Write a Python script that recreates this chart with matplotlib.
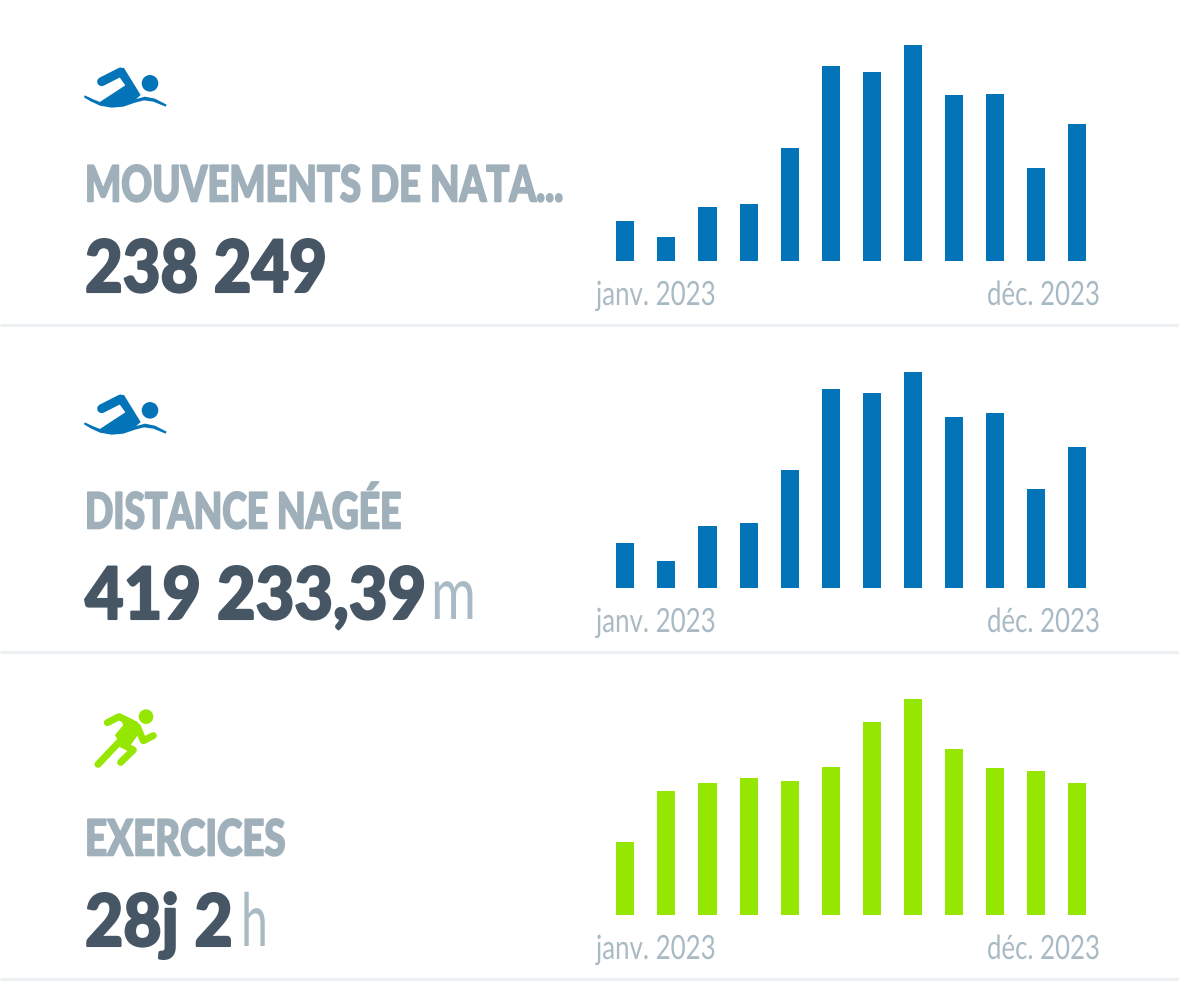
import matplotlib
matplotlib.use("Agg")
import matplotlib.pyplot as plt
from matplotlib.patches import Polygon, Circle
from matplotlib.patheffects import AbstractPathEffect
from matplotlib.transforms import Affine2D

# Data (bar heights)
months = ["janv.", "févr.", "mars", "avr.", "mai", "juin", "juil.", "août", "sept.", "oct.", "nov.", "déc."]
strokes = [40, 24, 54, 57, 113, 195, 189, 216, 166, 167, 93, 137]
distance = [45, 27, 62, 65, 118, 199, 195, 216, 171, 175, 99, 141]
workouts = [73, 124, 132, 137, 134, 148, 193, 216, 166, 147, 144, 132]
labels = ["MOUVEMENTS DE NATA...", "DISTANCE NAGÉE", "EXERCICES"]
totals = ["238 249", "419 233,39", "28j 2"]
units = ["", "m", "h"]
date_start = "janv. 2023"
date_end = "déc. 2023"

W, H = 1179, 983
BLUE = "#0474b8"
GREEN = "#95e600"
GREY = "#9fb0bb"
DARK = "#465665"
LIGHT = "#a9bac4"
RULE = "#ecf0f3"
FONT = ["Lato", "DejaVu Sans"]

fig = plt.figure(figsize=(W / 100, H / 100), dpi=100, facecolor="white")
bg = fig.add_axes([0, 0, 1, 1])
bg.set_xlim(0, W)
bg.set_ylim(H, 0)
bg.axis("off")


def lw(px):
    return px * 72 / 100


# No condensed family is installed, so narrow the glyphs when they are drawn
class Squeeze(AbstractPathEffect):
    def __init__(self, anchor, scale, stroke=0):
        super().__init__()
        self.anchor = anchor
        self.scale = scale
        self.stroke = stroke

    def draw_path(self, renderer, gc, tpath, affine, rgbFace=None):
        squeeze = Affine2D().translate(-self.anchor, 0).scale(self.scale, 1).translate(self.anchor, 0)
        gc0 = renderer.new_gc()
        gc0.copy_properties(gc)
        gc0.set_foreground(rgbFace)
        gc0.set_linewidth(self.stroke)
        renderer.draw_path(gc0, tpath, affine + squeeze, rgbFace)
        gc0.restore()


def fit_text(x, y, s, width, right=False, stroke=0, **kw):
    t = bg.text(x, y, s, family=FONT, va="baseline", ha="right" if right else "left", **kw)
    fig.canvas.draw()
    t.set_path_effects([Squeeze(x, width / t.get_window_extent().width, stroke)])
    return t


def draw_swimmer(dy):
    # points taken from the reference crop
    sx = lambda x: 70 + x / 3
    sy = lambda y: 50 + y / 3 + dy
    arm = [(95, 95), (152, 66)]
    bg.plot([sx(p[0]) for p in arm], [sy(p[1]) for p in arm], color=BLUE, lw=lw(9), solid_capstyle="round")
    body = [(88, 157), (166, 106), (146, 78), (150, 54), (162, 54), (212, 135), (190, 155), (150, 168), (115, 168)]
    bg.add_patch(Polygon([(sx(x), sy(y)) for x, y in body], color=BLUE, lw=0))
    wave = [(44, 136), (70, 148), (95, 158), (125, 163), (160, 160), (195, 148), (225, 140), (255, 146), (290, 164),
            (287, 170), (250, 155), (222, 151), (195, 158), (160, 170), (125, 173), (90, 167), (62, 154), (42, 142)]
    bg.add_patch(Polygon([(sx(x), sy(y)) for x, y in wave], color=BLUE, lw=0))
    bg.add_patch(Circle((sx(240), sy(100)), 8.3, color=BLUE, lw=0))


def draw_runner():
    sx = lambda x: 80 + x / 3
    sy = lambda y: 700 + y / 3
    bg.add_patch(Circle((sx(198), sy(50)), 7.3, color=GREEN, lw=0))
    limbs = [
        [(82, 68), (117, 50), (155, 68)],
        [(172, 80), (190, 122), (220, 107)],
        [(54, 193), (125, 118)],
        [(125, 132), (160, 150), (122, 187)],
    ]
    for limb in limbs:
        bg.plot([sx(p[0]) for p in limb], [sy(p[1]) for p in limb], color=GREEN, lw=lw(7),
                solid_capstyle="round", solid_joinstyle="round")
    torso = [(115, 45), (172, 65), (185, 90), (152, 135), (118, 130), (105, 105), (130, 75)]
    bg.add_patch(Polygon([(sx(x), sy(y)) for x, y in torso], color=GREEN, lw=0))


series = [strokes, distance, workouts]
colors = [BLUE, BLUE, GREEN]
row_top = [45, 372, 699]
row_base = [261, 588, 915]
label_y = [201.5, 528.5, 855.5]
total_y = [292, 619, 946]
date_y = [305, 632, 959]
rule_y = [325, 652, 979]
label_w = [478, 316, 200]
total_w = [242, 341, 148]
unit_x = [0, 431, 241]
unit_w = [0, 45, 27]

for i in range(3):
    # bars: 12 slots, 41.1 px apart, first slot centred at x=625
    ax = fig.add_axes([(625.3 - 20.55) / W, 1 - row_base[i] / H, 41.1 * 12 / W, (row_base[i] - row_top[i]) / H])
    ax.bar(range(12), series[i], width=0.44, color=colors[i])
    ax.set_xlim(-0.5, 11.5)
    ax.set_ylim(0, 216)
    ax.axis("off")
    ax.patch.set_alpha(0)

    fit_text(85, label_y[i], labels[i], label_w[i], stroke=1.2, color=GREY, fontsize=36, fontweight="black")
    # anchored on its right edge so that the unit can follow it closely
    fit_text(85 + total_w[i], total_y[i], totals[i], total_w[i], right=True, stroke=1.5, color=DARK,
             fontsize=52, fontweight="black")
    if units[i]:
        fit_text(unit_x[i], total_y[i], units[i], unit_w[i], color=LIGHT, fontsize=53, fontweight="normal")
    fit_text(596, date_y[i], date_start, 120, color=LIGHT, fontsize=24, fontweight="normal")
    fit_text(1100, date_y[i], date_end, 113, right=True, color=LIGHT, fontsize=24, fontweight="normal")
    bg.plot([0, W], [rule_y[i], rule_y[i]], color=RULE, lw=lw(3), solid_capstyle="butt")

draw_swimmer(0)
draw_swimmer(327)
draw_runner()

fig.savefig("out.png", dpi=100, facecolor="white")
